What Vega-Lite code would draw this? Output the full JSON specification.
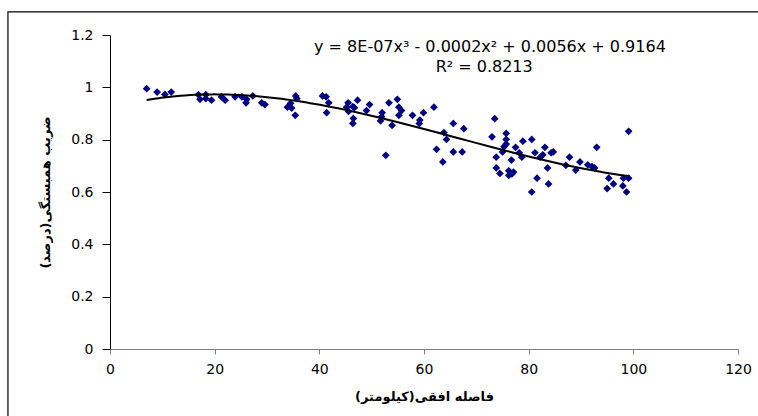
{
  "$schema": "https://vega.github.io/schema/vega-lite/v6.json",
  "width": 628,
  "height": 314,
  "autosize": {"type": "none"},
  "padding": {"left": 110, "top": 35, "right": 20, "bottom": 67},
  "background": "white",
  "config": {
    "view": {"stroke": null},
    "axis": {"grid": false, "labelFlush": false, "labelFont": "DejaVu Sans", "labelFontSize": 14, "labelColor": "black", "titleFont": "DejaVu Sans", "titleFontSize": 13, "titleFontWeight": "bold", "titleColor": "black"}
  },
  "data": {
    "values": [
      {"distance": 7.0, "corr": 0.995}, {"distance": 9.0, "corr": 0.982}, {"distance": 10.5, "corr": 0.973}, {"distance": 11.7, "corr": 0.982},
      {"distance": 16.9, "corr": 0.972}, {"distance": 18.3, "corr": 0.972}, {"distance": 17.2, "corr": 0.954}, {"distance": 18.3, "corr": 0.957},
      {"distance": 19.4, "corr": 0.951}, {"distance": 21.3, "corr": 0.964}, {"distance": 22.0, "corr": 0.951}, {"distance": 23.9, "corr": 0.964},
      {"distance": 25.2, "corr": 0.964}, {"distance": 26.0, "corr": 0.941}, {"distance": 26.1, "corr": 0.954}, {"distance": 27.3, "corr": 0.967},
      {"distance": 29.0, "corr": 0.941}, {"distance": 29.6, "corr": 0.934}, {"distance": 33.9, "corr": 0.924}, {"distance": 34.5, "corr": 0.939},
      {"distance": 34.7, "corr": 0.921}, {"distance": 35.5, "corr": 0.967}, {"distance": 35.7, "corr": 0.957}, {"distance": 35.4, "corr": 0.893},
      {"distance": 40.6, "corr": 0.967}, {"distance": 41.3, "corr": 0.964}, {"distance": 41.8, "corr": 0.941}, {"distance": 41.4, "corr": 0.903},
      {"distance": 45.2, "corr": 0.924}, {"distance": 45.5, "corr": 0.941}, {"distance": 45.6, "corr": 0.908}, {"distance": 46.4, "corr": 0.926},
      {"distance": 47.3, "corr": 0.951}, {"distance": 46.5, "corr": 0.881}, {"distance": 46.4, "corr": 0.862}, {"distance": 46.7, "corr": 0.922},
      {"distance": 49.0, "corr": 0.911}, {"distance": 49.6, "corr": 0.934}, {"distance": 51.7, "corr": 0.872}, {"distance": 51.9, "corr": 0.888},
      {"distance": 52.0, "corr": 0.903}, {"distance": 52.7, "corr": 0.740}, {"distance": 53.3, "corr": 0.941}, {"distance": 53.9, "corr": 0.855},
      {"distance": 54.9, "corr": 0.954}, {"distance": 55.2, "corr": 0.924}, {"distance": 55.7, "corr": 0.911}, {"distance": 55.2, "corr": 0.893},
      {"distance": 57.8, "corr": 0.893}, {"distance": 59.1, "corr": 0.862}, {"distance": 59.2, "corr": 0.875}, {"distance": 59.9, "corr": 0.903},
      {"distance": 61.9, "corr": 0.924}, {"distance": 62.4, "corr": 0.763}, {"distance": 63.6, "corr": 0.715}, {"distance": 63.8, "corr": 0.827},
      {"distance": 64.3, "corr": 0.801}, {"distance": 65.6, "corr": 0.862}, {"distance": 65.6, "corr": 0.753}, {"distance": 67.3, "corr": 0.753},
      {"distance": 67.6, "corr": 0.842}, {"distance": 73.0, "corr": 0.811}, {"distance": 73.5, "corr": 0.880}, {"distance": 73.8, "corr": 0.733},
      {"distance": 73.8, "corr": 0.692}, {"distance": 74.5, "corr": 0.671}, {"distance": 75.0, "corr": 0.753}, {"distance": 75.3, "corr": 0.773},
      {"distance": 75.7, "corr": 0.783}, {"distance": 75.7, "corr": 0.801}, {"distance": 75.7, "corr": 0.824}, {"distance": 76.7, "corr": 0.722},
      {"distance": 76.2, "corr": 0.681}, {"distance": 76.8, "corr": 0.669}, {"distance": 76.2, "corr": 0.664}, {"distance": 77.1, "corr": 0.676},
      {"distance": 77.5, "corr": 0.771}, {"distance": 78.2, "corr": 0.750}, {"distance": 78.7, "corr": 0.733}, {"distance": 78.9, "corr": 0.794},
      {"distance": 80.6, "corr": 0.801}, {"distance": 80.6, "corr": 0.600}, {"distance": 81.2, "corr": 0.750}, {"distance": 81.6, "corr": 0.653},
      {"distance": 82.2, "corr": 0.733}, {"distance": 82.7, "corr": 0.742}, {"distance": 83.1, "corr": 0.771}, {"distance": 83.6, "corr": 0.692},
      {"distance": 83.8, "corr": 0.631}, {"distance": 84.3, "corr": 0.750}, {"distance": 84.7, "corr": 0.753}, {"distance": 87.1, "corr": 0.702},
      {"distance": 87.8, "corr": 0.733}, {"distance": 89.0, "corr": 0.684}, {"distance": 89.8, "corr": 0.715}, {"distance": 91.3, "corr": 0.704},
      {"distance": 92.1, "corr": 0.697}, {"distance": 92.6, "corr": 0.692}, {"distance": 93.0, "corr": 0.771}, {"distance": 95.0, "corr": 0.613},
      {"distance": 95.3, "corr": 0.653}, {"distance": 96.2, "corr": 0.631}, {"distance": 98.0, "corr": 0.623}, {"distance": 98.1, "corr": 0.653},
      {"distance": 98.7, "corr": 0.600}, {"distance": 99.1, "corr": 0.653}, {"distance": 99.1, "corr": 0.832}
    ]
  },
  "layer": [
    {
      "data": {"values": [{}]},
      "mark": {"type": "rect", "fill": null, "stroke": "black", "strokeWidth": 1.2},
      "encoding": {
        "x": {"datum": -19.5, "type": "quantitative", "scale": {"domain": [0, 120]}},
        "x2": {"datum": 140},
        "y": {"datum": 1.288, "type": "quantitative", "scale": {"domain": [0, 1.2]}},
        "y2": {"datum": -0.5}
      }
    },
    {
      "mark": {"type": "point", "shape": "diamond", "filled": true, "color": "#000080", "size": 60, "opacity": 1},
      "encoding": {
        "x": {
          "field": "distance", "type": "quantitative",
          "scale": {"domain": [0, 120], "nice": false},
          "axis": {"values": [0, 20, 40, 60, 80, 100, 120], "format": "d", "domainColor": "#808080", "tickColor": "#808080", "tickSize": 5, "labelPadding": 8, "title": "فاصله افقی(کیلومتر)", "titlePadding": 14}
        },
        "y": {
          "field": "corr", "type": "quantitative",
          "scale": {"domain": [0, 1.2], "nice": false},
          "axis": {"values": [0, 0.2, 0.4, 0.6, 0.8, 1, 1.2], "format": "~g", "domainColor": "black", "tickColor": "black", "tickSize": 8, "labelPadding": 9, "title": "ضریب همبستگی(درصد)", "titlePadding": 18}
        }
      }
    },
    {
      "transform": [{"regression": "corr", "on": "distance", "method": "poly", "order": 3, "extent": [7, 99]}],
      "mark": {"type": "line", "color": "black", "strokeWidth": 2},
      "encoding": {
        "x": {"field": "distance", "type": "quantitative"},
        "y": {"field": "corr", "type": "quantitative"}
      }
    },
    {
      "data": {"values": [{}]},
      "mark": {"type": "text", "text": "y = 8E-07x³ - 0.0002x² + 0.0056x + 0.9164", "font": "DejaVu Sans", "fontSize": 16, "baseline": "middle", "align": "center", "color": "black"},
      "encoding": {"x": {"datum": 72.6, "type": "quantitative"}, "y": {"datum": 1.156, "type": "quantitative"}}
    },
    {
      "data": {"values": [{}]},
      "mark": {"type": "text", "text": "R² = 0.8213", "font": "DejaVu Sans", "fontSize": 16, "baseline": "middle", "align": "center", "color": "black"},
      "encoding": {"x": {"datum": 71.5, "type": "quantitative"}, "y": {"datum": 1.078, "type": "quantitative"}}
    }
  ]
}
